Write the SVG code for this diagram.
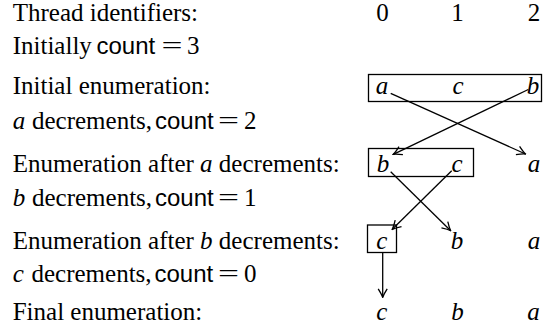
<svg xmlns="http://www.w3.org/2000/svg" width="543" height="331" viewBox="0 0 543 331">
<style>
  .t { font-family: "Liberation Serif", "Times New Roman", serif; font-size: 25px; fill: #000; }
  .i { font-style: italic; }
  .s { font-family: "Liberation Sans", Arial, sans-serif; font-size: 24px; }
  .m { text-anchor: middle; }
  .box { fill: none; stroke: #000; stroke-width: 1.3; }
  .arr { fill: none; stroke: #000; stroke-width: 1.3; marker-end: url(#ah); }
</style>
<defs>
  <marker id="ah" viewBox="-10 -6 11 12" refX="0" refY="0" markerWidth="11" markerHeight="12" markerUnits="userSpaceOnUse" orient="auto">
    <path d="M -8.5,-4.5 Q -3,-1 0,0 Q -3,1 -8.5,4.5" fill="none" stroke="#000" stroke-width="1.3"/>
  </marker>
</defs>
<rect width="543" height="331" fill="#fff"/>

<g id="labels">
  <text class="t" x="12.7" y="20.7">Thread identifiers:</text>
  <text class="t" y="54"><tspan x="12.7">Initially</tspan><tspan class="s" x="96.5">count</tspan><tspan x="161.5" textLength="21" lengthAdjust="spacingAndGlyphs">=</tspan><tspan x="187">3</tspan></text>
  <text class="t" x="12.7" y="93.5">Initial enumeration:</text>
  <text class="t" y="129"><tspan class="i" x="12.7">a</tspan><tspan x="32">decrements,</tspan><tspan class="s" x="155">count</tspan><tspan x="218" textLength="21" lengthAdjust="spacingAndGlyphs">=</tspan><tspan x="244">2</tspan></text>
  <text class="t" x="12.7" y="172">Enumeration after <tspan class="i">a</tspan> decrements:</text>
  <text class="t" y="206"><tspan class="i" x="12.7">b</tspan><tspan x="32">decrements,</tspan><tspan class="s" x="155">count</tspan><tspan x="218" textLength="21" lengthAdjust="spacingAndGlyphs">=</tspan><tspan x="244">1</tspan></text>
  <text class="t" x="12.7" y="248.5">Enumeration after <tspan class="i">b</tspan> decrements:</text>
  <text class="t" y="282"><tspan class="i" x="12.7">c</tspan><tspan x="31.5">decrements,</tspan><tspan class="s" x="154.5">count</tspan><tspan x="218" textLength="21" lengthAdjust="spacingAndGlyphs">=</tspan><tspan x="244">0</tspan></text>
  <text class="t" x="12.7" y="320">Final enumeration:</text>
</g>

<g id="thread-ids">
  <text class="t m" x="382.5" y="20.7">0</text>
  <text class="t m" x="457.5" y="20.7">1</text>
  <text class="t m" x="534" y="20.7">2</text>
</g>

<g id="initial-enumeration">
  <rect class="box" x="368.5" y="74.5" width="173" height="27"/>
  <text class="t i m" x="382" y="93.5">a</text>
  <text class="t i m" x="458" y="93.5">c</text>
  <text class="t i m" x="533" y="93.5">b</text>
</g>

<g id="after-a">
  <rect class="box" x="368.5" y="148.5" width="105" height="28"/>
  <text class="t i m" x="383" y="172">b</text>
  <text class="t i m" x="457" y="172">c</text>
  <text class="t i m" x="534" y="172">a</text>
</g>

<g id="after-b">
  <rect class="box" x="367.5" y="225" width="29" height="27.5"/>
  <text class="t i m" x="381.7" y="248.5">c</text>
  <text class="t i m" x="457" y="248.5">b</text>
  <text class="t i m" x="534" y="248.5">a</text>
</g>

<g id="final-enumeration">
  <text class="t i m" x="381.7" y="320">c</text>
  <text class="t i m" x="457.5" y="320">b</text>
  <text class="t i m" x="533.5" y="320">a</text>
</g>

<g id="connectors">
  <line class="arr" x1="390.7" y1="93.3" x2="525.5" y2="154"/>
  <line class="arr" x1="528.3" y1="89.5" x2="393.3" y2="154.3"/>
  <line class="arr" x1="390.7" y1="171.7" x2="450.7" y2="230.7"/>
  <line class="arr" x1="451.7" y1="170.7" x2="392.3" y2="229.3"/>
  <line class="arr" x1="382.7" y1="252.7" x2="382.7" y2="297.3"/>
</g>
</svg>
